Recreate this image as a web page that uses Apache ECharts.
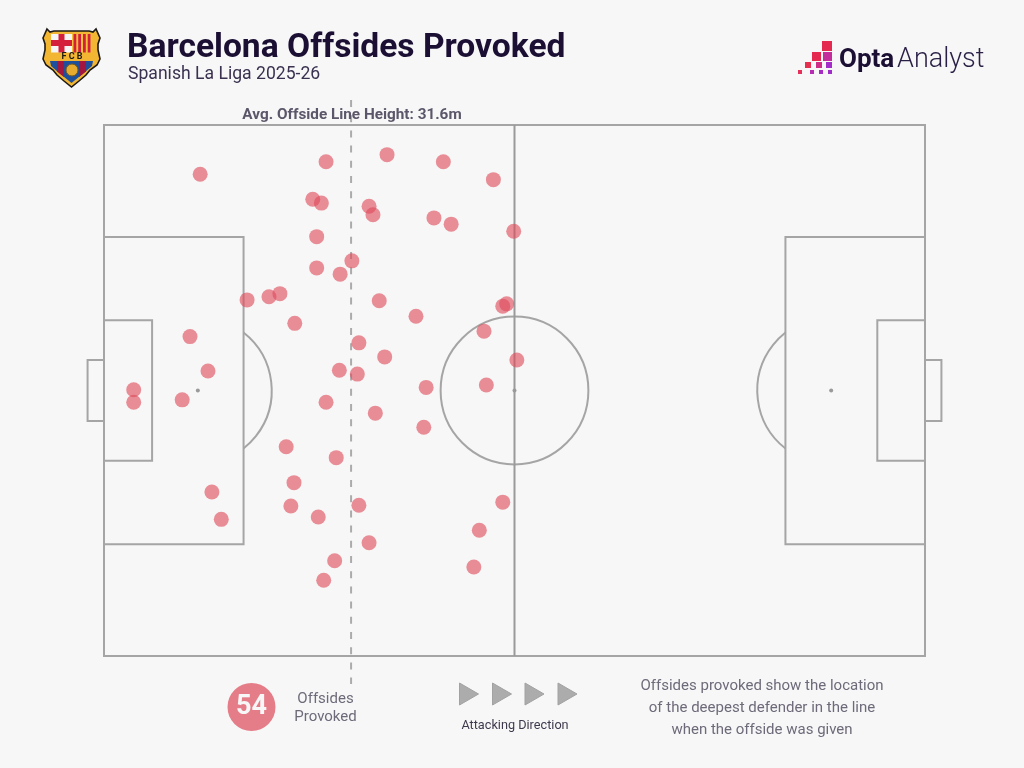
<!DOCTYPE html>
<html>
<head>
<meta charset="utf-8">
<title>Barcelona Offsides Provoked</title>
<style>
html, body { margin: 0; padding: 0; background: #f7f7f7; }
#main { width: 1024px; height: 768px; }
</style>
</head>
<body>
<div id="main"></div>
<script src="https://cdn.jsdelivr.net/npm/echarts@6/dist/echarts.min.js"></script>
<script>
// offside locations in metres, x from own goal line, y from bottom touchline
var offsideX = [12.3, 28.4, 36.2, 43.4, 49.8, 26.7, 27.8, 33.9, 34.4, 42.2, 44.4, 52.4, 27.2, 31.7, 27.2, 30.2, 18.3, 21.1,
  22.5, 24.4, 35.2, 39.9, 51.0, 51.5, 48.6, 11.0, 32.6, 35.9, 52.8, 13.3, 30.1, 32.4, 3.8, 3.8, 10.0, 28.4,
  41.2, 48.9, 34.7, 40.9, 23.3, 29.7, 24.3, 13.8, 23.9, 32.6, 27.4, 15.0, 51.0, 48.0, 33.9, 29.5, 47.3, 28.1];
var offsideY = [61.7, 63.3, 64.2, 63.3, 61.0, 58.5, 58.0, 57.6, 56.5, 56.1, 55.3, 54.4, 53.7, 50.6, 49.7, 48.9, 45.6, 46.0,
  46.4, 42.6, 45.5, 43.5, 44.8, 45.1, 41.6, 40.9, 40.1, 38.3, 37.9, 36.5, 36.6, 36.1, 34.1, 32.5, 32.8, 32.5,
  34.4, 34.7, 31.1, 29.3, 26.8, 25.4, 22.2, 21.0, 19.2, 19.3, 17.8, 17.5, 19.7, 16.1, 14.5, 12.2, 11.4, 9.7];
var avgLineHeight = 31.6;
var offsideCount = 54;

// pitch markings in metres: [x0, y0, x1, y1]
var pitchRects = [
  [0, 0, 105, 68],
  [0, 14.3, 17.85, 53.65],
  [0, 25, 6.15, 43],
  [-2.1, 30.1, 0, 37.9],
  [87.15, 14.3, 105, 53.65],
  [98.9, 25, 105, 43],
  [105, 30.1, 107.1, 37.9]
];
var halfwayLine = [[52.5, 0], [52.5, 68]];
// [cx, cy, r, startDeg, endDeg]
var pitchArcs = [
  [52.5, 34, 9.45, 0, 360],
  [12, 34, 9.45, -51.8, 51.8],
  [93, 34, 9.45, 128.2, 231.8]
];
var pitchSpots = [[12, 34], [52.5, 34], [93, 34]];
var offsideLine = [[avgLineHeight, 71.2], [avgLineHeight, -3.6]];

var lineColor = '#a5a5a5';
var inkColor = '#1b0f33';
var greyText = '#6e6a79';
var pointColor = 'rgba(222, 74, 90, 0.62)';
var uiFont = 'Roboto';

var scatterData = offsideX.map(function (x, i) { return [x, offsideY[i]]; });

function rectItem(params, api) {
  var a = api.coord([api.value(0), api.value(1)]);
  var b = api.coord([api.value(2), api.value(3)]);
  return {
    type: 'rect',
    shape: { x: Math.min(a[0], b[0]), y: Math.min(a[1], b[1]), width: Math.abs(b[0] - a[0]), height: Math.abs(b[1] - a[1]) },
    style: { fill: 'none', stroke: lineColor, lineWidth: 2 }
  };
}

function arcItem(params, api) {
  var c = api.coord([api.value(0), api.value(1)]);
  return {
    type: 'arc',
    shape: {
      cx: c[0], cy: c[1], r: api.size([api.value(2), 0])[0],
      startAngle: api.value(3) * Math.PI / 180,
      endAngle: api.value(4) * Math.PI / 180,
      clockwise: true
    },
    style: { fill: 'none', stroke: lineColor, lineWidth: 2 }
  };
}

function txt(text, x, y, size, weight, color, align) {
  return {
    type: 'text', x: x, y: y, z: 20,
    style: {
      text: text, fontFamily: uiFont, fontSize: size, fontWeight: weight, fill: color,
      textAlign: align || 'center', textVerticalAlign: 'middle'
    }
  };
}

function box(x, y, w, h, fill) {
  return { type: 'rect', z: 20, shape: { x: x, y: y, width: w, height: h }, style: { fill: fill } };
}

function triangle(x) {
  return {
    type: 'polygon', z: 20,
    shape: { points: [[x, 683], [x + 19, 694], [x, 705]] },
    style: { fill: '#acacac', stroke: '#a2a2a2', lineWidth: 1 }
  };
}

function poly(points, fill, stroke, width) {
  return { type: 'polygon', z: 20, shape: { points: points }, style: { fill: fill, stroke: stroke || 'none', lineWidth: width || 0 } };
}

// club crest, drawn at page coordinates
var crest = [
  poly([[47, 29], [50, 32], [54, 31], [89, 31], [93, 32], [96, 29], [100, 38], [98, 44], [98, 50], [100, 59], [97, 65], [90, 70], [86, 75],
    [79, 81], [71.5, 87], [64, 81], [57, 75], [53, 70], [46, 65], [43, 59], [45, 50], [45, 44], [43, 38]], '#f2b632', '#1d1a16', 1.6),
  box(51, 34, 21, 18.5, '#f5f5f5'),
  box(58.5, 34, 6, 18.5, '#d5203c'),
  box(51, 40, 21, 6, '#d5203c'),
  box(72, 34, 19.5, 18.5, '#f4c33a'),
  box(73.5, 34, 2.8, 18.5, '#d5203c'),
  box(78.2, 34, 2.8, 18.5, '#d5203c'),
  box(83, 34, 2.8, 18.5, '#d5203c'),
  box(87.7, 34, 2.8, 18.5, '#d5203c'),
  poly([[50, 61], [93, 61], [92, 66], [85, 72], [71.5, 83], [58, 72], [51, 66]], '#1e4f9c'),
  poly([[57, 61], [64, 61], [64, 77], [57, 71.5]], '#a3163f'),
  poly([[79, 61], [86, 61], [86, 71.5], [79, 77]], '#a3163f'),
  { type: 'circle', z: 21, shape: { cx: 72, cy: 70, r: 6 }, style: { fill: '#e7ac2f', stroke: '#7a5a16', lineWidth: 1 } },
  { type: 'text', x: 72, y: 56.5, z: 21, style: { text: 'F C B', fontFamily: uiFont, fontSize: 9, fontWeight: 'bold', fill: '#1d1a16', textAlign: 'center', textVerticalAlign: 'middle' } }
];

// Opta mark squares
var optaMark = [
  box(822, 41, 10, 10, '#e5284f'),
  box(812, 52, 9, 9, '#e5284f'),
  box(823, 52, 9, 9, '#c42c9c'),
  box(805, 62, 6, 6, '#e5304f'),
  box(816, 62, 6, 6, '#cf2c88'),
  box(826, 62, 6, 6, '#a42cc8'),
  box(798, 70, 4, 4, '#e5305a'),
  box(810, 70, 4, 4, '#b62cb4'),
  box(819, 70, 4, 4, '#a62cc4'),
  box(828, 70, 4, 4, '#a02cc8')
];

var option = {
  backgroundColor: '#f7f7f7',
  animation: false,
  title: [
    { text: 'Barcelona Offsides Provoked', left: 127, top: 32, padding: 0, textStyle: { fontFamily: uiFont, fontSize: 33.6, fontWeight: 'bold', color: inkColor } },
    { text: 'Spanish La Liga 2025-26', left: 128, top: 66, padding: 0, textStyle: { fontFamily: uiFont, fontSize: 17.6, fontWeight: 'normal', color: '#3a3150' } }
  ],
  grid: { left: 104, right: 99, top: 125, bottom: 112 },
  xAxis: { type: 'value', min: 0, max: 105, show: false },
  yAxis: { type: 'value', min: 0, max: 68, show: false },
  series: [
    { type: 'custom', coordinateSystem: 'cartesian2d', data: pitchRects, renderItem: rectItem, clip: false, silent: true, z: 1 },
    { type: 'custom', coordinateSystem: 'cartesian2d', data: pitchArcs, renderItem: arcItem, clip: false, silent: true, z: 1 },
    {
      type: 'line', data: halfwayLine, symbol: 'none', clip: false, silent: true, z: 1,
      lineStyle: { color: '#9a9a9a', width: 2 }
    },
    {
      type: 'scatter', data: pitchSpots, symbolSize: 4, silent: true, clip: false, z: 1,
      itemStyle: { color: '#9a9a9a', opacity: 1 }
    },
    {
      type: 'line', data: offsideLine, symbol: 'none', clip: false, silent: true, z: 2,
      lineStyle: { color: '#ababab', width: 2, type: [7, 8.2] }
    },
    {
      name: 'Offsides Provoked', type: 'scatter', data: scatterData, symbolSize: 15, clip: false, z: 5,
      itemStyle: { color: pointColor, opacity: 1 }
    }
  ],
  graphic: crest.concat(optaMark).concat([
    txt('Opta', 839, 60, 26, 'bold', inkColor, 'left'),
    txt('Analyst', 897, 60, 27, 300, '#2a1f45', 'left'),
    txt('Avg. Offside Line Height: ' + avgLineHeight + 'm', 352, 115, 15.3, 'bold', '#5b5669'),
    { type: 'circle', z: 20, shape: { cx: 251.5, cy: 707, r: 24 }, style: { fill: '#e57d88' } },
    txt(String(offsideCount), 251.5, 707, 27, 'bold', '#f7f7f7'),
    txt('Offsides', 325.5, 699, 15, 'normal', greyText),
    txt('Provoked', 325.5, 717, 15, 'normal', greyText),
    triangle(459.5), triangle(492.5), triangle(525), triangle(558),
    txt('Attacking Direction', 515, 726, 12.7, 'normal', '#3e394c'),
    txt('Offsides provoked show the location', 762, 686, 15, 'normal', greyText),
    txt('of the deepest defender in the line', 762, 708, 15, 'normal', greyText),
    txt('when the offside was given', 762, 730, 15, 'normal', greyText)
  ])
};

var myChart = echarts.init(document.getElementById('main'));
myChart.setOption(option);
</script>
</body>
</html>
